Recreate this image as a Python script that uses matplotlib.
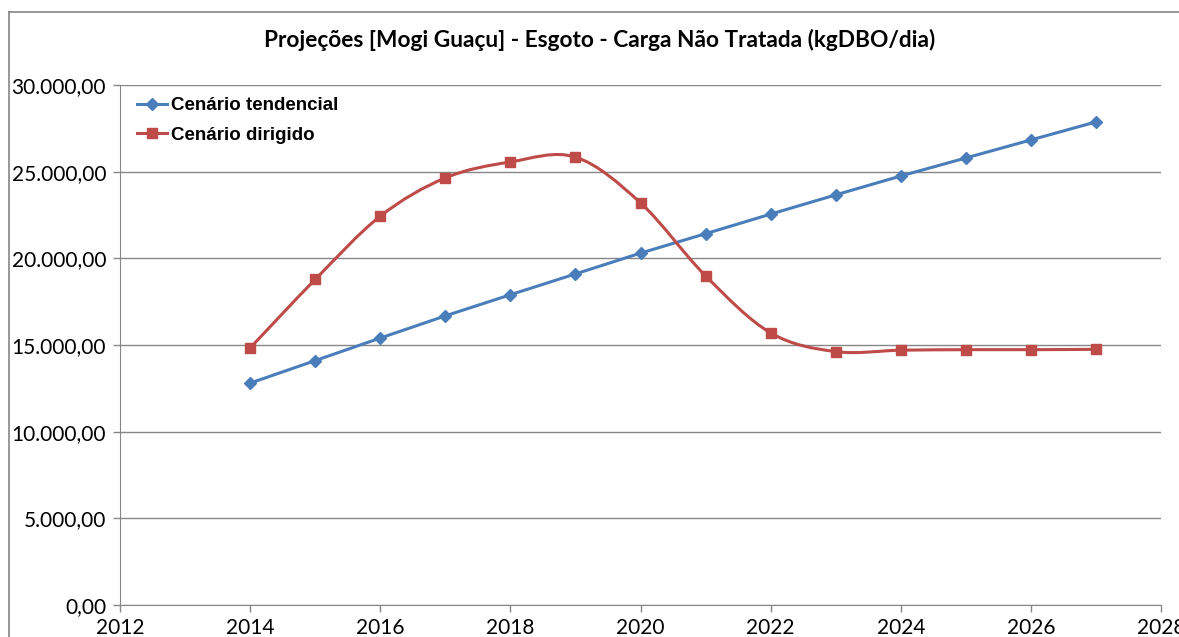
import matplotlib.pyplot as plt
from matplotlib.path import Path
from matplotlib.patches import PathPatch
from matplotlib.lines import Line2D
from matplotlib.ticker import FuncFormatter, MultipleLocator

# dados
anos = [2014, 2015, 2016, 2017, 2018, 2019, 2020, 2021, 2022, 2023, 2024, 2025, 2026, 2027]
tendencial = [12800, 14100, 15400, 16680, 17900, 19100, 20300, 21420, 22550, 23660, 24750, 25790, 26830, 27870]
dirigido = [14830, 18780, 22430, 24640, 25560, 25840, 23200, 18990, 15700, 14620, 14700, 14730, 14730, 14750]

titulo = 'Projeções [Mogi Guaçu] - Esgoto - Carga Não Tratada (kgDBO/dia)'
nomes = ['Cenário tendencial', 'Cenário dirigido']
azul = '#4A7EBB'
vermelho = '#BE4B48'
cinza = '#868686'


def curva_suave(xs, ys):
    # spline tipo Excel (Bezier com tangentes de Catmull-Rom)
    pts = list(zip(xs, ys))
    verts = [pts[0]]
    codes = [Path.MOVETO]
    n = len(pts)
    for i in range(n - 1):
        p0 = pts[i - 1] if i > 0 else pts[i]
        p1 = pts[i]
        p2 = pts[i + 1]
        p3 = pts[i + 2] if i + 2 < n else pts[i + 1]
        c1 = (p1[0] + (p2[0] - p0[0]) / 6, p1[1] + (p2[1] - p0[1]) / 6)
        c2 = (p2[0] - (p3[0] - p1[0]) / 6, p2[1] - (p3[1] - p1[1]) / 6)
        verts += [c1, c2, p2]
        codes += [Path.CURVE4] * 3
    return Path(verts, codes)


fig = plt.figure(figsize=(11.79, 6.37), dpi=100)
ax = fig.add_axes([120 / 1179, 1 - 605 / 637, (1161 - 120) / 1179, (605 - 85) / 637])

ax.plot(anos, tendencial, color=azul, lw=2.2, marker='D', markersize=6.5, zorder=3)
ax.add_patch(PathPatch(curva_suave(anos, dirigido), fill=False, edgecolor=vermelho, lw=2.2, zorder=3))
ax.plot(anos, dirigido, ls='none', color=vermelho, marker='s', markersize=7.5, zorder=4)

ax.set_xlim(2012, 2028)
ax.set_ylim(0, 30000)
ax.xaxis.set_major_locator(MultipleLocator(2))
ax.yaxis.set_major_locator(MultipleLocator(5000))
ax.yaxis.set_major_formatter(FuncFormatter(
    lambda v, p: f'{v:,.2f}'.replace(',', 'X').replace('.', ',').replace('X', '.')))

ax.grid(axis='y', color=cinza, lw=1)
ax.set_axisbelow(True)
for lado in ['top', 'right']:
    ax.spines[lado].set_visible(False)
for lado in ['left', 'bottom']:
    ax.spines[lado].set_color(cinza)
ax.tick_params(colors=cinza, length=5, width=1, labelcolor='black', labelsize=15)
ax.tick_params(axis='y', pad=5)
ax.tick_params(axis='x', pad=4)
for lab in ax.get_xticklabels() + ax.get_yticklabels():
    lab.set_family('Lato')

handles = [Line2D([], [], color=azul, lw=2.2, marker='D', markersize=6.5),
           Line2D([], [], color=vermelho, lw=2.2, marker='s', markersize=7.5)]
ax.legend(handles, nomes, loc='upper left', bbox_to_anchor=(0.005, 1.0), frameon=False,
          prop={'family': 'Liberation Sans', 'weight': 'bold', 'size': 13.5},
          handlelength=1.6, handletextpad=0.2, labelspacing=0.65, borderaxespad=0.25)

fig.text(600 / 1179, 1 - 40 / 637, titulo, ha='center', va='center',
         fontsize=16.3, fontweight='bold', family='Lato')

# borda da area do grafico
fig.add_artist(Line2D([9 / 1179, 9 / 1179], [0, 1 - 12 / 637], color=cinza, lw=1.2))
fig.add_artist(Line2D([9 / 1179, 1], [1 - 12 / 637, 1 - 12 / 637], color=cinza, lw=1.2))

fig.savefig('out.png', dpi=100)
